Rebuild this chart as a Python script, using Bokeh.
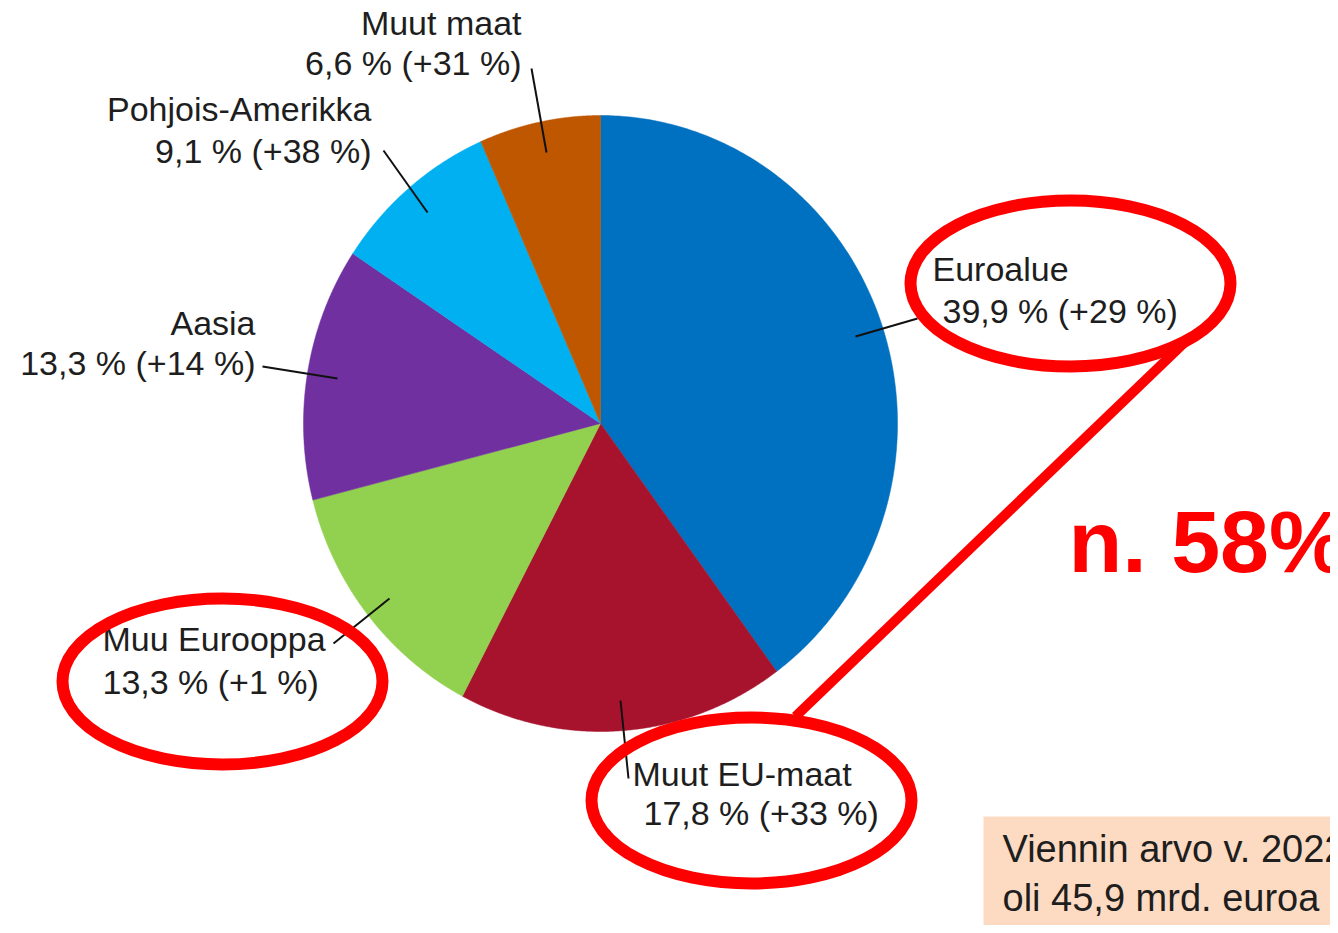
import numpy as np
from bokeh.plotting import figure
from bokeh.models import Range1d, ColumnDataSource
from bokeh.core.properties import value
from bokeh.embed import file_html
from bokeh.resources import INLINE

# ---- data ----
regions = ["Euroalue", "Muut EU-maat", "Muu Eurooppa", "Aasia", "Pohjois-Amerikka", "Muut maat"]
shares = [39.9, 17.8, 13.3, 13.3, 9.1, 6.6]
changes = ["+29 %", "+33 %", "+1 %", "+14 %", "+38 %", "+31 %"]
share_labels = ["39,9 %", "17,8 %", "13,3 %", "13,3 %", "9,1 %", "6,6 %"]
colors = ["#0070C0", "#A7132C", "#92D050", "#7030A0", "#00B0F0", "#BF5700"]
highlight_text = "n. 58%"
box_lines = ["Viennin arvo v. 2022", "oli 45,9 mrd. euroa ("]

# ---- layout (screen-pixel coordinates; y data = -pixel y) ----
W, H = 1330, 925
p = figure(width=W, height=H, output_backend="svg", toolbar_location=None,
           x_range=Range1d(0, W), y_range=Range1d(-H, 0),
           min_border=0, outline_line_color=None)
p.axis.visible = False
p.grid.visible = False
p.background_fill_color = "white"
p.border_fill_color = "white"

# slightly elliptical pie (as in the reference)
cx, cy, rx, ry = 600, -423, 297, 308
vals = np.array(shares, dtype=float)
frac = vals / vals.sum()
cum = np.concatenate([[0], np.cumsum(frac)])
xs, ys = [], []
for a0, a1 in zip(cum[:-1], cum[1:]):
    th = np.pi / 2 - 2 * np.pi * np.linspace(a0, a1, 200)
    xs.append(np.concatenate([[cx], cx + rx * np.cos(th)]))
    ys.append(np.concatenate([[cy], cy + ry * np.sin(th)]))
src = ColumnDataSource(dict(xs=xs, ys=ys, color=colors, region=regions))
p.patches(xs="xs", ys="ys", fill_color="color", line_color="color", line_width=0.5, source=src)

# labels: (x, y line1, y line2, align, x offset line2)
lab_pos = {
    "Euroalue": (932, 268, 310, "left", 10),
    "Muut EU-maat": (632, 773, 812, "left", 11),
    "Muu Eurooppa": (102, 638, 681, "left", 0),
    "Aasia": (255, 322, 362, "right", 0),
    "Pohjois-Amerikka": (371, 108, 150, "right", 0),
    "Muut maat": (521, 22, 62, "right", 0),
}
leaders = {
    "Euroalue": (855, 336, 917, 318),
    "Muut EU-maat": (620, 700, 628, 778),
    "Muu Eurooppa": (389, 598, 333, 643),
    "Aasia": (337, 378, 262, 366),
    "Pohjois-Amerikka": (427, 212, 383, 150),
    "Muut maat": (546, 152, 531, 68),
}
font = value("Liberation Sans")
for i, reg in enumerate(regions):
    x, y1, y2, al, dx = lab_pos[reg]
    p.text(x=[x], y=[-y1], text=[reg], text_align=al, text_baseline="middle",
           text_font=font, text_font_size="34px", text_color="#1e1e1e")
    p.text(x=[x + dx], y=[-y2], text=[f"{share_labels[i]} ({changes[i]})"], text_align=al,
           text_baseline="middle", text_font=font, text_font_size="34px", text_color="#1e1e1e")
    x0, y0, x1, y1_ = leaders[reg]
    p.segment(x0=[x0], y0=[-y0], x1=[x1], y1=[-y1_], line_color="#111111", line_width=2)

# red annotation ellipses and connecting line
ell = ColumnDataSource(dict(x=[1070, 222, 751], y=[-283, -681, -800]))
p.ellipse(x="x", y="y", width=320, height=166, source=ell, fill_color=None,
          line_color="#FF0000", line_width=12)
p.segment(x0=[1183], y0=[-343], x1=[795], y1=[-716], line_color="#FF0000", line_width=10)
p.text(x=[1068], y=[-541], text=[highlight_text], text_align="left", text_baseline="middle",
       text_font=font, text_font_style="bold", text_font_size="88px", text_color="#FF0000")

# info box
p.quad(left=[983], right=[1400], top=[-816], bottom=[-1000], fill_color="#FDDBC2", line_color=None)
p.text(x=[1002, 1002], y=[-848, -897], text=box_lines, text_align="left", text_baseline="middle",
       text_font=font, text_font_size="38px", text_color="#1e1e1e")

open("out.html", "w").write(file_html(p, INLINE))
